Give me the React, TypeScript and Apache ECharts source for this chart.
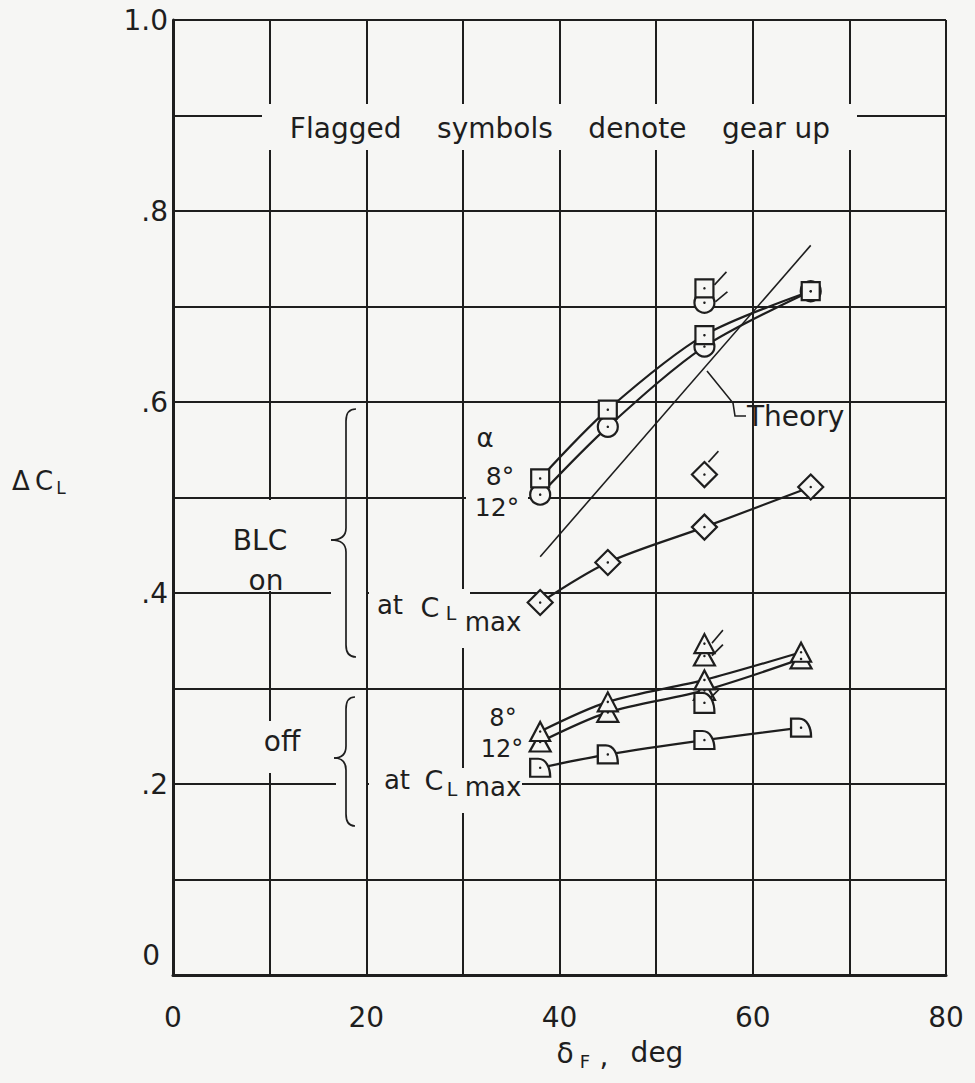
import React, { useEffect, useRef } from "react";
import * as echarts from "echarts";

// Axis tick labels
const xTickLabels = [0, 20, 40, 60, 80];
const yTickLabels = ["0", ".2", ".4", ".6", ".8", "1.0"];

// Flap deflection (deg) vs lift increment, BLC on
const blcOn8: number[][] = [[38, 0.52], [45, 0.592], [55, 0.67], [66, 0.716]];
const blcOn12: number[][] = [[38, 0.503], [45, 0.574], [55, 0.658], [66, 0.716]];
const blcOnMax: number[][] = [[38, 0.39], [45, 0.432], [55, 0.469], [66, 0.511]];
// BLC off
const blcOff8: number[][] = [[38, 0.255], [45, 0.286], [55, 0.309], [65, 0.338]];
const blcOff12: number[][] = [[38, 0.244], [45, 0.275], [55, 0.298], [65, 0.331]];
const blcOffMax: number[][] = [[38, 0.217], [45, 0.231], [55, 0.246], [65, 0.259]];
// Theory
const theory: number[][] = [[38, 0.438], [66, 0.764]];
// Gear-up (flagged) points
const gearUpOn8: number[][] = [[55, 0.719]];
const gearUpOn12: number[][] = [[55, 0.704]];
const gearUpOnMax: number[][] = [[55, 0.524]];
const gearUpOff8: number[][] = [[55, 0.347]];
const gearUpOff12: number[][] = [[55, 0.334]];
const gearUpOffMax: number[][] = [[55, 0.285]];

const INK = "#1e1e1e";
const PAPER = "#f6f6f4";
const FONT = '"DejaVu Sans", "Liberation Sans", sans-serif';

const QUARTER = "path://M0,20 L0,0 L8,0 C16,0 20,10 20,20 Z";
const FLAG = "path://M0,12 L12,0";

const symbolStyle = { color: PAPER, borderColor: INK, borderWidth: 2.2, opacity: 1 };

function curve(data: number[][], width = 2.2, smooth: number | boolean = 0.3) {
  return {
    type: "line",
    data,
    showSymbol: false,
    smooth,
    lineStyle: { color: INK, width },
    z: 2,
    silent: true,
  };
}

function marks(data: number[][], symbol: string, size: number | number[], z = 3) {
  return {
    type: "scatter",
    data,
    symbol,
    symbolSize: size,
    itemStyle: symbolStyle,
    z,
    silent: true,
  };
}

function flags(data: number[][], offset: number[], size: number[] = [12, 12]) {
  return {
    type: "scatter",
    data,
    symbol: FLAG,
    symbolSize: size,
    symbolOffset: offset,
    itemStyle: { color: "none", borderColor: INK, borderWidth: 1.7, opacity: 1 },
    z: 4,
    silent: true,
  };
}

function txt(text: string, x: number, y: number, size = 27, align = "center", z = 20) {
  return {
    type: "text",
    x,
    y,
    z,
    silent: true,
    style: {
      text,
      fill: INK,
      font: `${size}px ${FONT}`,
      fontSize: size,
      fontFamily: FONT,
      align,
      verticalAlign: "middle",
      textAlign: align,
      textVerticalAlign: "middle",
    },
  };
}

function mask(x: number, y: number, width: number, height: number) {
  return {
    type: "rect",
    z: 1,
    silent: true,
    shape: { x, y, width, height },
    style: { fill: PAPER },
  };
}

function brace(xEnd: number, xStem: number, xTip: number, yTop: number, yMid: number, yBot: number) {
  const s = { stroke: INK, lineWidth: 1.7, fill: "none" };
  const r = 12;
  const part = (type: string, shape: any) => ({ type, shape, style: s, z: 6, silent: true });
  return [
    part("bezierCurve", { x1: xEnd, y1: yTop, cpx1: xStem, cpy1: yTop, x2: xStem, y2: yTop + r }),
    part("line", { x1: xStem, y1: yTop + r, x2: xStem, y2: yMid - r }),
    part("bezierCurve", { x1: xStem, y1: yMid - r, cpx1: xStem, cpy1: yMid, x2: xTip, y2: yMid }),
    part("bezierCurve", { x1: xTip, y1: yMid, cpx1: xStem, cpy1: yMid, x2: xStem, y2: yMid + r }),
    part("line", { x1: xStem, y1: yMid + r, x2: xStem, y2: yBot - r }),
    part("bezierCurve", { x1: xStem, y1: yBot - r, cpx1: xStem, cpy1: yBot, x2: xEnd, y2: yBot }),
  ];
}

export default function App() {
  const ref = useRef<HTMLDivElement>(null);

  useEffect(() => {
    if (!ref.current) return;
    const chart = echarts.init(ref.current, null, { renderer: "svg" });

    const allPoints = [
      ...blcOn8, ...blcOn12, ...blcOnMax, ...blcOff8, ...blcOff12, ...blcOffMax,
      ...gearUpOn8, ...gearUpOn12, ...gearUpOnMax, ...gearUpOff8, ...gearUpOff12, ...gearUpOffMax,
    ];

    const option: any = {
      animation: false,
      backgroundColor: PAPER,
      grid: { left: 173, right: 29, top: 20, bottom: 108, containLabel: false },
      xAxis: {
        type: "value",
        min: 0,
        max: 80,
        interval: 10,
        axisLine: { show: true, onZero: false, lineStyle: { color: INK, width: 3 } },
        axisTick: { show: false },
        splitLine: { show: true, lineStyle: { color: INK, width: 2 } },
        axisLabel: {
          margin: 28,
          fontSize: 28,
          color: INK,
          fontFamily: FONT,
          formatter: (v: number) => (xTickLabels.includes(v) ? String(v) : ""),
        },
      },
      yAxis: {
        type: "value",
        min: 0,
        max: 1,
        interval: 0.1,
        axisLine: { show: true, onZero: false, lineStyle: { color: INK, width: 3 } },
        axisTick: { show: false },
        splitLine: { show: true, lineStyle: { color: INK, width: 2 } },
        axisLabel: {
          margin: 5,
          fontSize: 28,
          color: INK,
          fontFamily: FONT,
          formatter: (v: number) => {
            const i = Math.round(v * 10);
            if (i % 2 !== 0) return "";
            const s = yTickLabels[i / 2];
            return i === 0 ? `{z|${s}}` : s;
          },
          rich: {
            z: { fontSize: 28, color: INK, fontFamily: FONT, padding: [0, 8, 40, 0] },
          },
        },
      },
      series: [
        // connecting curves
        curve(blcOn8),
        curve(blcOn12),
        curve(blcOnMax),
        curve(blcOff8),
        curve(blcOff12),
        curve(blcOffMax),
        curve(theory, 1.6, false),
        // symbols
        marks(blcOn12, "circle", 20),
        marks(blcOn8, "rect", 18, 4),
        marks(blcOnMax, "diamond", 25),
        marks(blcOff12, "triangle", [21, 19]),
        marks(blcOff8, "triangle", [20, 19], 4),
        marks(blcOffMax, QUARTER, [20, 18]),
        marks(gearUpOn12, "circle", 20),
        marks(gearUpOn8, "rect", 18, 4),
        marks(gearUpOnMax, "diamond", 25),
        marks(gearUpOffMax, QUARTER, [20, 20]),
        marks(gearUpOff12, "triangle", [21, 19]),
        marks(gearUpOff8, "triangle", [20, 19], 4),
        // gear-up flags
        flags(gearUpOn8, [16, -10], [12, 13]),
        flags(gearUpOn12, [17, -6], [12, 10]),
        flags(gearUpOnMax, [9, -18], [10, 11]),
        flags(gearUpOff8, [13, -7], [11, 13]),
        flags(gearUpOff12, [13, -6], [11, 11]),
        flags(gearUpOffMax, [10, -9], [9, 9]),
        // centre dots
        {
          type: "scatter",
          data: allPoints,
          symbol: "circle",
          symbolSize: 2.5,
          itemStyle: { color: INK, opacity: 1 },
          z: 5,
          silent: true,
        },
      ],
      graphic: {
        elements: [
          // gaps in the grid around the annotations
          mask(262, 104, 595, 46),
          mask(466, 424, 62, 92),
          mask(212, 500, 88, 91),
          mask(331, 589, 35, 10),
          mask(369, 589, 101, 10),
          mask(372, 596, 150, 52),
          mask(250, 721, 68, 52),
          mask(336, 779, 30, 10),
          mask(369, 779, 153, 10),
          mask(372, 768, 150, 45),

          txt("Flagged    symbols    denote    gear up", 560, 128, 28),

          // theory label with leader
          txt("Theory", 747, 416, 28, "left"),
          {
            type: "polyline",
            z: 5,
            silent: true,
            shape: { points: [[707, 371], [733, 403], [735, 416], [746, 416]] },
            style: { stroke: INK, lineWidth: 1.6, fill: "none" },
          },

          // BLC on
          txt("\u03b1", 485, 438, 26),
          txt("8\u00b0", 500, 476, 25),
          txt("12\u00b0", 497, 507, 25),
          txt("BLC", 260, 540, 28),
          txt("on", 266, 580, 28),
          ...brace(356, 346, 331, 409, 540, 657),
          txt("at", 390, 605, 26),
          txt("C", 430, 607, 27),
          txt("L", 451, 613, 19),
          txt("max", 493, 622, 26),

          // BLC off
          txt("off", 282, 741, 28),
          ...brace(355, 346, 334, 697, 758, 826),
          txt("8\u00b0", 503, 718, 24),
          txt("12\u00b0", 502, 749, 24),
          txt("at", 397, 780, 26),
          txt("C", 434, 780, 27),
          txt("L", 452, 789, 19),
          txt("max", 493, 787, 26),

          // axis titles
          txt("\u0394", 21, 481, 26),
          txt("C", 44, 481, 26),
          txt("L", 61, 488, 17),
          txt("\u03b4", 565, 1053, 28),
          txt("F", 585, 1061, 18),
          txt(",", 604, 1056, 28),
          txt("deg", 657, 1052, 28),
        ],
      },
    };

    chart.setOption(option);
    return () => chart.dispose();
  }, []);

  return (
    <div
      ref={ref}
      style={{ position: "absolute", left: 0, top: 0, width: 975, height: 1083, background: PAPER }}
    />
  );
}
